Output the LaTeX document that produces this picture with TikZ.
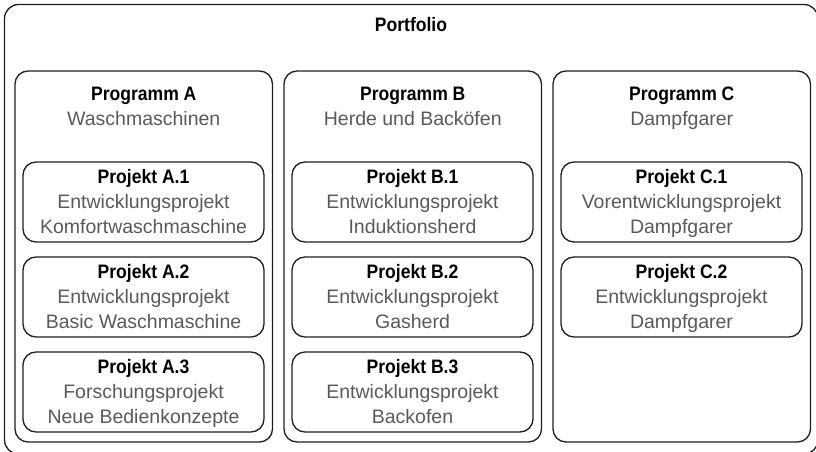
\documentclass[tikz,border=0pt]{standalone}
\usepackage{fontspec}
\setmainfont{Liberation Sans}[BoldFeatures={FakeStretch=0.9}]
\definecolor{txtgray}{HTML}{595959}
\definecolor{linecol}{HTML}{1E1E1E}
\begin{document}
\begin{tikzpicture}[x=1pt,y=-1pt,
  frame/.style={draw=linecol, line width=1.3pt, rounded corners=13pt, inner sep=0pt, outer sep=0pt, anchor=north west},
  progbox/.style={frame, minimum width=257.5pt, minimum height=371pt},
  projbox/.style={frame, minimum width=241pt, minimum height=80pt},
  ttl/.style={font=\fontsize{19.5}{25}\selectfont\bfseries, text=black, anchor=base, inner sep=0pt},
  sub/.style={font=\fontsize{19.5}{25}\selectfont, text=txtgray, anchor=base, inner sep=0pt}]
\useasboundingbox (0,0) rectangle (816,452);
% portfolio frame
\node[frame, minimum width=813.5pt, minimum height=449.5pt, rounded corners=14pt] (portfolio) at (4.5,4.5) {};
\node[ttl] (tportfolio) at (411,32) {Portfolio};
% programme
\node[progbox] (pA) at (15,71) {};
\node[progbox] (pB) at (284,71) {};
\node[progbox] (pC) at (553,71) {};
\node[ttl] (tA) at (143.75,100.7) {Programm A};
\node[sub] (sA) at (143.75,125.7) {Waschmaschinen};
\node[ttl] (tB) at (412.75,100.7) {Programm B};
\node[sub] (sB) at (412.75,125.7) {Herde und Backöfen};
\node[ttl] (tC) at (681.75,100.7) {Programm C};
\node[sub] (sC) at (681.75,125.7) {Dampfgarer};
% projekte A
\node[projbox] (a1) at (23,162) {};
\node[projbox] (a2) at (23,257) {};
\node[projbox] (a3) at (23,352) {};
\node[ttl] at (143.5,183.3) {Projekt A.1};
\node[sub] at (143.5,208.3) {Entwicklungsprojekt};
\node[sub] at (143.5,233.3) {Komfortwaschmaschine};
\node[ttl] at (143.5,278.3) {Projekt A.2};
\node[sub] at (143.5,303.3) {Entwicklungsprojekt};
\node[sub] at (143.5,328.3) {Basic Waschmaschine};
\node[ttl] at (143.5,373.3) {Projekt A.3};
\node[sub] at (143.5,398.3) {Forschungsprojekt};
\node[sub] at (143.5,423.3) {Neue Bedienkonzepte};
% projekte B
\node[projbox] (b1) at (292,162) {};
\node[projbox] (b2) at (292,257) {};
\node[projbox] (b3) at (292,352) {};
\node[ttl] at (412.5,183.3) {Projekt B.1};
\node[sub] at (412.5,208.3) {Entwicklungsprojekt};
\node[sub] at (412.5,233.3) {Induktionsherd};
\node[ttl] at (412.5,278.3) {Projekt B.2};
\node[sub] at (412.5,303.3) {Entwicklungsprojekt};
\node[sub] at (412.5,328.3) {Gasherd};
\node[ttl] at (412.5,373.3) {Projekt B.3};
\node[sub] at (412.5,398.3) {Entwicklungsprojekt};
\node[sub] at (412.5,423.3) {Backofen};
% projekte C
\node[projbox] (c1) at (561,162) {};
\node[projbox] (c2) at (561,257) {};
\node[ttl] at (681.5,183.3) {Projekt C.1};
\node[sub] at (681.5,208.3) {Vorentwicklungsprojekt};
\node[sub] at (681.5,233.3) {Dampfgarer};
\node[ttl] at (681.5,278.3) {Projekt C.2};
\node[sub] at (681.5,303.3) {Entwicklungsprojekt};
\node[sub] at (681.5,328.3) {Dampfgarer};
\end{tikzpicture}
\end{document}
